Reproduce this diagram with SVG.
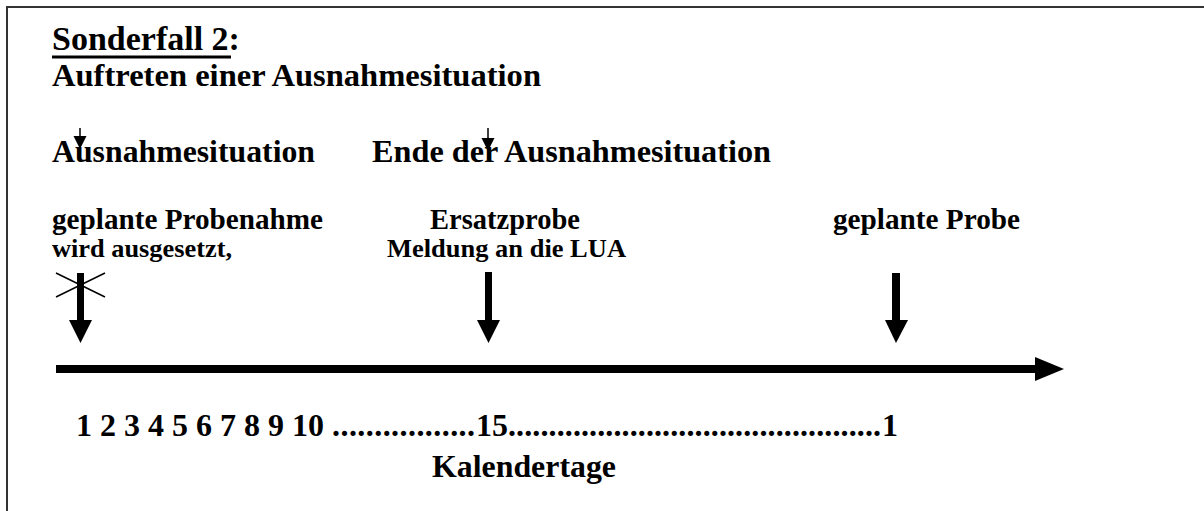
<svg xmlns="http://www.w3.org/2000/svg" width="1204" height="511" viewBox="0 0 1204 511">
  <style>
    text { font-family: "Liberation Serif", "Times New Roman", serif; font-weight: bold; fill: #000; }
    .t34 { font-size: 34px; }
    .t32 { font-size: 32px; }
    .t29 { font-size: 29px; }
    .t26 { font-size: 26px; }
    .shaft { stroke: #000; fill: none; }
  </style>
  <rect x="7" y="7" width="1220" height="530" fill="#fff" stroke="#333" stroke-width="2"/>

  <g id="title">
    <text class="t34" x="52" y="50">Sonderfall 2:</text>
    <rect x="52" y="55.5" width="179" height="3" fill="#000"/>
    <text class="t32" x="52" y="86" textLength="489" lengthAdjust="spacingAndGlyphs">Auftreten einer Ausnahmesituation</text>
  </g>

  <g id="label-ausnahme">
    <text class="t32" x="52" y="162" textLength="263" lengthAdjust="spacingAndGlyphs">Ausnahmesituation</text>
  </g>
  <g id="label-ende">
    <text class="t32" x="372" y="162" textLength="399" lengthAdjust="spacingAndGlyphs">Ende der Ausnahmesituation</text>
  </g>

  <g id="node-geplante-probenahme">
    <text class="t29" x="52" y="229" textLength="271" lengthAdjust="spacingAndGlyphs">geplante Probenahme</text>
    <text class="t26" x="52" y="257" textLength="180" lengthAdjust="spacingAndGlyphs">wird ausgesetzt,</text>
  </g>
  <g id="node-ersatzprobe">
    <text class="t29" x="430" y="229" textLength="150" lengthAdjust="spacingAndGlyphs">Ersatzprobe</text>
    <text class="t26" x="387" y="257" textLength="239" lengthAdjust="spacingAndGlyphs">Meldung an die LUA</text>
  </g>
  <g id="node-geplante-probe">
    <text class="t29" x="833" y="229" textLength="187" lengthAdjust="spacingAndGlyphs">geplante Probe</text>
  </g>

  <g id="axis-labels">
    <text class="t32" y="436"><tspan x="76">1 2 3 4 5 6 7 8 9 10 </tspan><tspan textLength="143" lengthAdjust="spacing">.................</tspan><tspan x="476">15</tspan><tspan textLength="373" lengthAdjust="spacing">..............................................</tspan><tspan x="882">1</tspan></text>
    <text class="t32" x="432" y="477" textLength="184" lengthAdjust="spacingAndGlyphs">Kalendertage</text>
  </g>

  <g id="connectors">
    <!-- timeline -->
    <rect x="56" y="365" width="980" height="8" fill="#000"/>
    <polygon points="1035,357 1064,369 1035,381" fill="#000"/>

    <!-- small arrows -->
    <line class="shaft" x1="80" y1="128" x2="80" y2="138" stroke-width="1.5"/>
    <polygon points="73.5,136 86.5,136 80,149" fill="#000"/>
    <line class="shaft" x1="488" y1="128" x2="488" y2="140" stroke-width="1.5"/>
    <polygon points="481.5,138 494.5,138 488,151" fill="#000"/>

    <!-- arrow 1 with cross -->
    <rect x="77" y="273" width="7" height="49" fill="#000"/>
    <polygon points="69,320 92,320 80.5,343" fill="#000"/>
    <line class="shaft" x1="56" y1="273" x2="105" y2="297" stroke-width="1.5"/>
    <line class="shaft" x1="56" y1="297" x2="105" y2="273" stroke-width="1.5"/>

    <!-- arrow 2 -->
    <rect x="485" y="272" width="7" height="50" fill="#000"/>
    <polygon points="477,320 500,320 488.5,343" fill="#000"/>

    <!-- arrow 3 -->
    <rect x="892" y="273" width="8" height="49" fill="#000"/>
    <polygon points="885,320 908,320 896,343" fill="#000"/>
  </g>
</svg>
